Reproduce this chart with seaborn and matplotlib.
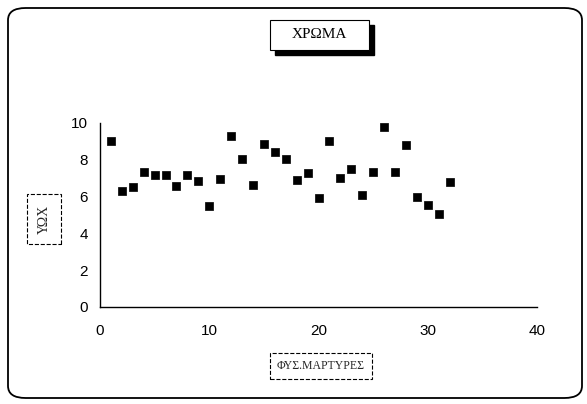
import numpy as np
import pandas as pd
import matplotlib
matplotlib.use('Agg')
import matplotlib.pyplot as plt
import seaborn as sns
from matplotlib.patches import FancyBboxPatch, Rectangle

# data
witness_no = list(range(1, 33))
colour_val = [9.0, 6.3, 6.5, 7.35, 7.15, 7.15, 6.6, 7.2, 6.85, 5.5,
              6.95, 9.3, 8.05, 6.65, 8.85, 8.4, 8.05, 6.9, 7.3, 5.9,
              9.0, 7.0, 7.5, 6.1, 7.35, 9.8, 7.35, 8.8, 6.0, 5.55,
              5.05, 6.8]
x_ticks = [0, 10, 20, 30, 40]
y_ticks = [0, 2, 4, 6, 8, 10]

title_txt = 'ΧΡΩΜΑ'
xlabel_txt = 'ΦΥΣ.ΜΑΡΤΥΡΕΣ'
ylabel_txt = 'ΥΩΧ'

df = pd.DataFrame({'x': witness_no, 'y': colour_val})

sns.set_style('white')
plt.rcParams['font.family'] = ['Liberation Sans', 'DejaVu Sans']
serif = ['Liberation Serif', 'DejaVu Serif']

W, H = 587, 404
fig = plt.figure(figsize=(W / 100, H / 100), dpi=100)
ax = fig.add_axes([100 / W, 1 - 307 / H, 437 / W, 184 / H])

sns.scatterplot(data=df, x='x', y='y', marker='s', s=30, color='black',
                edgecolor='black', linewidth=0.5, ax=ax)

ax.set_xlim(0, 40)
ax.set_ylim(0, 10)
ax.set_xticks(x_ticks)
ax.set_yticks(y_ticks)
ax.tick_params(direction='inout', length=5, width=0.8, labelsize=11,
               colors='black', pad=6)
ax.tick_params(axis='x', pad=10)
for side in ['top', 'right']:
    ax.spines[side].set_visible(False)
for side in ['left', 'bottom']:
    ax.spines[side].set_color('black')
    ax.spines[side].set_linewidth(1.0)
ax.set_xlabel('')
ax.set_ylabel('')


def fig_rect(x0, y0, x1, y1, **kw):
    # rectangle given in picture pixels from the top-left corner
    return Rectangle((x0 / W, 1 - y1 / H), (x1 - x0) / W, (y1 - y0) / H,
                     transform=fig.transFigure, **kw)


# outer rounded frame
frame = FancyBboxPatch((8 / W, 6 / H), 574 / W, 390 / H,
                       boxstyle='round,pad=0,rounding_size=0.03',
                       transform=fig.transFigure, fill=False,
                       edgecolor='black', linewidth=1.3)
fig.patches.append(frame)

# title box with a shadow
fig.patches.append(fig_rect(275, 25, 374, 55, facecolor='black',
                            edgecolor='black'))
fig.patches.append(fig_rect(270, 20, 369, 50, facecolor='white',
                            edgecolor='black', linewidth=0.8))
fig.text(319 / W, 1 - 35 / H, title_txt, ha='center', va='center',
         fontsize=11, family=serif, color='black')

# axis labels in dashed boxes
fig.text(321 / W, 1 - 366 / H, xlabel_txt, ha='center', va='center',
         fontsize=8.5, family=serif,
         bbox=dict(boxstyle='square,pad=0.6', facecolor='white',
                   edgecolor='black', linewidth=0.8, linestyle='--'))
fig.text(44 / W, 1 - 219 / H, ylabel_txt, ha='center', va='center',
         rotation=90, fontsize=10, family=serif,
         bbox=dict(boxstyle='square,pad=0.75', facecolor='white',
                   edgecolor='black', linewidth=0.8, linestyle='--'))

fig.savefig('out.png', dpi=100)
